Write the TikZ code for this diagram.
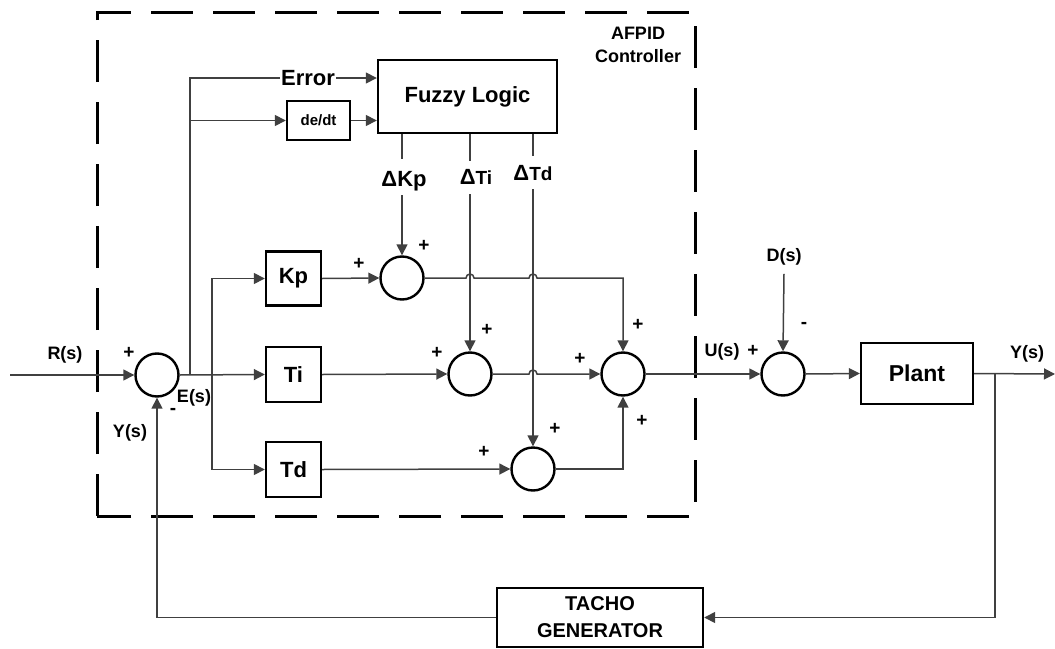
\documentclass[tikz,border=0pt]{standalone}
\usepackage{fontspec}
\setmainfont{Liberation Sans}
\usetikzlibrary{arrows.meta,calc}
\tikzset{
  blk/.style={draw=black, line width=1.2pt, inner sep=0pt, fill=white},
  sumc/.style={circle, draw=black, line width=1.2pt, minimum size=21.5pt, inner sep=0pt},
  sig/.style={draw=black!75, line width=0.75pt},
  arr/.style={sig, -{Triangle[length=5.5pt,width=5.5pt]}},
  lbl/.style={font=\bfseries\fontsize{9}{10}\selectfont, inner sep=1pt},
  big/.style={font=\bfseries\fontsize{11}{12}\selectfont},
  pl/.style={font=\bfseries\fontsize{9.5}{10}\selectfont, inner sep=0pt},
  dashbox/.style={draw=black, line width=1.5pt, dash pattern=on 21pt off 10pt}
}
\begin{document}
\begin{tikzpicture}[x=0.5pt,y=-0.5pt]
\useasboundingbox (0,0) rectangle (1055,648);
% dashed controller box
\draw[dashbox] (97,516) -- (97,12) -- (695,12) -- (695,516) -- cycle;
\node[lbl, align=center, font=\bfseries\fontsize{9}{11.5}\selectfont] (afpid) at (638,45) {AFPID\\Controller};

% blocks
\node[blk, minimum width=89.5pt, minimum height=36.5pt, big] (fz) at (467.5,96.5) {Fuzzy Logic};
\node[blk, minimum width=31.5pt, minimum height=19.5pt, font=\bfseries\fontsize{7.5}{8}\selectfont] (dd) at (318.5,120.5) {de/dt};
\node[blk, minimum width=27.5pt, minimum height=27pt, big] (kp) at (293.5,278.5) {Kp};
\node[blk, minimum width=27.5pt, minimum height=27.5pt, big] (ti) at (293.5,374.5) {Ti};
\node[blk, minimum width=27.5pt, minimum height=27.5pt, big] (td) at (293.5,469.5) {Td};
\node[blk, minimum width=56pt, minimum height=30.5pt, font=\bfseries\fontsize{11.5}{12}\selectfont] (plant) at (917,373.5) {Plant};
\node[blk, minimum width=103pt, minimum height=29.5pt, align=center, font=\bfseries\fontsize{10}{13.5}\selectfont] (tacho) at (600,617.5) {TACHO\\GENERATOR};

% summing junctions
\node[sumc] (c0) at (157,375) {};
\node[sumc] (c1) at (402,278) {};
\node[sumc] (c2) at (470,374) {};
\node[sumc] (c3) at (533,469) {};
\node[sumc] (c4) at (623,374) {};
\node[sumc] (c5) at (783,374) {};

% helper coordinates
\coordinate (rin) at (10,375);
\coordinate (b1) at (190,375);
\coordinate (b2) at (212,375);
\coordinate (e1) at (0,78);
\coordinate (fb) at (995,374);
\coordinate (yout) at (1055,374);

% fuzzy output labels
\node[big, inner sep=0pt] (dkp) at (404,181) {ΔKp};
\node[inner sep=0pt] (dti) at (476,177) {\bfseries\fontsize{11}{12}\selectfont Δ\fontsize{9.5}{10}\selectfont Ti};
\node[inner sep=0pt] (dtd) at (533,173) {\bfseries\fontsize{11}{12}\selectfont Δ\fontsize{9.5}{10}\selectfont Td};

% input and error paths
\draw[arr] (rin) -- (c0.west);
\draw[arr] (c0.east) -- (ti.west);
\draw[arr] (b1) |- (fz.west |- e1);
\node[big, fill=white, inner sep=0.5pt] (err) at (308,78) {Error};
\draw[arr] (b1 |- dd.west) -- (dd.west);
\draw[arr] (dd.east) -- (fz.west |- dd.east);
\draw[arr] (b2) |- (kp.west);
\draw[arr] (b2) |- (td.west);

% fuzzy outputs
\draw[sig] (fz.south -| c1.north) -- ++(0,25);
\draw[arr] (c1.north) ++(0,-60) -- (c1.north);
\draw[sig] (fz.south -| c2.north) -- ++(0,27);
\draw[arr] (c2.north) ++(0,-157) -- (c2.north);
\draw[sig] (fz.south -| c3.north) -- ++(0,22);
\draw[arr] (c3.north) ++(0,-257) -- (c3.north);

% PID paths
\draw[arr] (kp.east) -- (c1.west);
\draw[arr] (ti.east) -- (c2.west);
\draw[arr] (td.east) -- (c3.west);
\draw[arr] (c1.east) -- ($(c2.north |- c1.east)+(-4,0)$) arc[start angle=180,end angle=360,radius=4]
  -- ($(c3.north |- c1.east)+(-4,0)$) arc[start angle=180,end angle=360,radius=4]
  -| (c4.north);
\draw[arr] (c2.east) -- ($(c3.north |- c2.east)+(-4,0)$) arc[start angle=180,end angle=360,radius=4]
  -- (c4.west);
\draw[arr] (c3.east) -| (c4.south);

% plant loop
\node[lbl] (ds) at (784,257) {D(s)};
\draw[arr] (ds.south) ++(0,6) -- (c5.north);
\draw[arr] (c4.east) -- (c5.west);
\draw[arr] (c5.east) -- (plant.west);
\draw[arr] (plant.east) -- (yout);
\draw[arr] (fb) |- (tacho.east);
\draw[arr] (tacho.west) -| (c0.south);

% labels
\node[lbl] (rs) at (65,355) {R(s)};
\node[lbl] (es) at (194,398) {E(s)};
\node[lbl] (ys1) at (130,433) {Y(s)};
\node[lbl] (us) at (722,352) {U(s)};
\node[lbl] (ys2) at (1027,354) {Y(s)};
\node[pl] (p0) at (129,353) {+};
\node[pl] (m0) at (173,411) {-};
\node[pl] (p1a) at (359,264) {+};
\node[pl] (p1b) at (424,246) {+};
\node[pl] (p2a) at (437,353) {+};
\node[pl] (p2b) at (487,330) {+};
\node[pl] (p3a) at (484,452) {+};
\node[pl] (p3b) at (555,429) {+};
\node[pl] (p4a) at (580,359) {+};
\node[pl] (p4b) at (638,325) {+};
\node[pl] (p4c) at (642,421) {+};
\node[pl] (p5a) at (753,351) {+};
\node[pl] (m5) at (804,325) {-};
\end{tikzpicture}
\end{document}
